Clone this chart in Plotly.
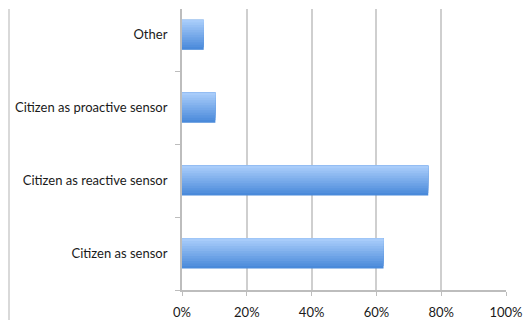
import plotly.graph_objects as go

categories = ["Citizen as sensor", "Citizen as reactive sensor", "Citizen as proactive sensor", "Other"]
values = [0.622, 0.76, 0.103, 0.067]
x_ticks = [0, 0.2, 0.4, 0.6, 0.8, 1.0]
x_tick_labels = ["0%", "20%", "40%", "60%", "80%", "100%"]

top_rgb = (168, 204, 250)
bot_rgb = (74, 138, 218)
n_strips = 12
bar_w = 0.41

fig = go.Figure()
for i in range(n_strips):
    t = i / (n_strips - 1)
    c = tuple(round(b + (a - b) * t) for a, b in zip(top_rgb, bot_rgb))
    start = -bar_w / 2 + i * bar_w / n_strips
    fig.add_trace(go.Bar(
        x=values, y=categories, orientation="h",
        width=bar_w / 2 - start,
        offset=start,
        marker=dict(color="rgb(%d,%d,%d)" % c, line=dict(width=0)),
        showlegend=False, hoverinfo="skip",
    ))

fig.update_layout(
    width=523, height=320,
    margin=dict(l=182, r=17, t=9, b=30),
    paper_bgcolor="white", plot_bgcolor="white",
    barmode="overlay",
    font=dict(family="Lato, Open Sans, sans-serif", size=13, color="#1a1a1a"),
    xaxis=dict(
        range=[0, 1.0], tickvals=x_ticks, ticktext=x_tick_labels,
        showgrid=True, gridcolor="#cfcfcf", gridwidth=2,
        showline=True, linecolor="#bdbdbd", linewidth=2,
        ticks="outside", ticklen=4, tickcolor="#bdbdbd", tickwidth=1,
        zeroline=False, fixedrange=True, ticklabelstandoff=5, automargin=False,
    ),
    yaxis=dict(
        type="category", categoryorder="array", categoryarray=categories,
        range=[-0.5, 3.355],
        showgrid=False, showline=True, linecolor="#bdbdbd", linewidth=2,
        ticks="outside", tickson="boundaries", ticklen=5, tickcolor="#bdbdbd", tickwidth=1,
        ticklabelstandoff=10, zeroline=False, fixedrange=True, automargin=False,
    ),
    shapes=[dict(
        type="line", xref="paper", yref="paper",
        x0=-173 / 324.0, x1=-173 / 324.0, y0=1.0, y1=-0.12,
        line=dict(color="#d9d9d9", width=2),
    )],
)

fig.write_html("out.html")
